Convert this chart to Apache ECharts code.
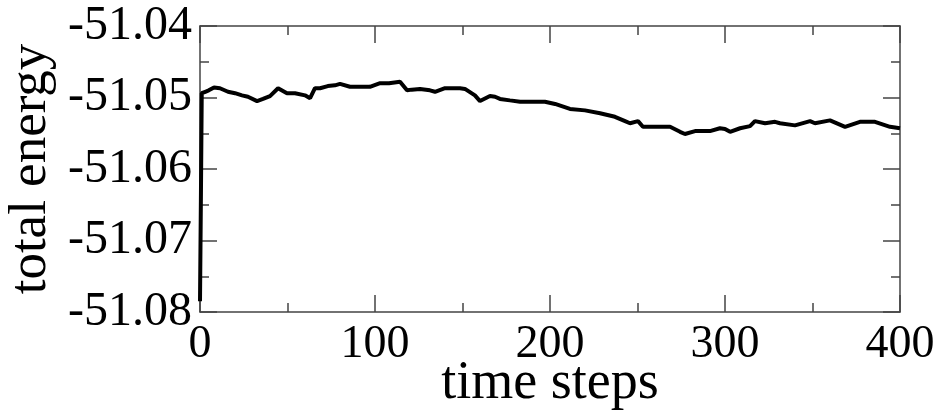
<!DOCTYPE html>
<html>
<head>
<meta charset="utf-8">
<script src="https://cdn.jsdelivr.net/npm/echarts@6/dist/echarts.min.js"></script>
<style>html,body{margin:0;padding:0;background:#fff;}#chart{width:941px;height:411px;}</style>
</head>
<body>
<div id="chart"></div>
<script>
const steps = [0, 0.5, 1, 3, 5, 8, 11.4, 16, 20, 24, 27.4, 32.6, 36, 40, 44.6, 49.7, 54.3, 60, 62.9, 65.7, 68.6, 73, 77.1, 80, 85.7, 91, 97.1, 102.9, 108, 114.3, 118.3, 121, 125.7, 131.4, 134.3, 140, 148.6, 151.4, 157.1, 160, 165.7, 168.6, 171.4, 177.1, 182.9, 188.6, 197.1, 202.9, 211.4, 220, 228.6, 237.1, 242.9, 245.7, 250.3, 253.1, 262.9, 268.6, 274.3, 277.1, 282.9, 291.4, 297.1, 300, 302.9, 308.6, 314.3, 317.1, 322.9, 328.6, 331.4, 340, 348.6, 351.4, 360, 368.6, 377.1, 385.7, 394.3, 400];
const energy = [-51.0785, -51.0645, -51.0494, -51.0492, -51.0490, -51.0486, -51.0487, -51.0492, -51.0494, -51.0497, -51.0499, -51.0505, -51.0502, -51.0498, -51.0487, -51.0494, -51.0494, -51.0497, -51.0501, -51.0487, -51.0487, -51.0484, -51.0483, -51.0481, -51.0485, -51.0485, -51.0485, -51.0480, -51.0480, -51.0478, -51.0490, -51.0489, -51.0488, -51.0490, -51.0492, -51.0487, -51.0487, -51.0488, -51.0497, -51.0505, -51.0498, -51.0499, -51.0502, -51.0504, -51.0506, -51.0506, -51.0506, -51.0509, -51.0516, -51.0518, -51.0522, -51.0527, -51.0533, -51.0536, -51.0533, -51.0541, -51.0541, -51.0541, -51.0548, -51.0551, -51.0547, -51.0547, -51.0543, -51.0544, -51.0548, -51.0543, -51.0540, -51.0533, -51.0536, -51.0534, -51.0536, -51.0539, -51.0533, -51.0536, -51.0532, -51.0541, -51.0534, -51.0534, -51.0541, -51.0543];
const xTitle = 'time steps';
const yTitle = 'total energy';

const font = '"Liberation Serif", "DejaVu Serif", serif';
const axisCol = '#444';
const chart = echarts.init(document.getElementById('chart'));
const baseX = {
  type: 'value', min: 0, max: 400, interval: 100,
  axisLine: { show: true, onZero: false, lineStyle: { color: axisCol, width: 1.5 } },
  axisTick: { show: true, inside: true, length: 17, lineStyle: { color: axisCol, width: 1.5 } },
  minorTick: { show: true, splitNumber: 2, length: 9, lineStyle: { color: axisCol, width: 1.5 } },
  splitLine: { show: false }, minorSplitLine: { show: false }
};
const baseY = {
  type: 'value', min: -51.08, max: -51.04, interval: 0.01,
  axisLine: { show: true, onZero: false, lineStyle: { color: axisCol, width: 1.5 } },
  axisTick: { show: true, inside: true, length: 17, lineStyle: { color: axisCol, width: 1.5 } },
  minorTick: { show: true, splitNumber: 2, length: 9, lineStyle: { color: axisCol, width: 1.5 } },
  splitLine: { show: false }, minorSplitLine: { show: false }
};
chart.setOption({
  animation: false,
  backgroundColor: '#fff',
  grid: { left: 200, right: 41, top: 26, bottom: 99, containLabel: false, outerBoundsMode: 'none' },
  xAxis: [
    Object.assign({}, baseX, {
      position: 'bottom',
      name: xTitle, nameLocation: 'middle', nameGap: 45, nameMoveOverlap: false,
      nameTextStyle: { fontFamily: font, fontSize: 54, color: '#000' },
      axisLabel: { fontFamily: font, fontSize: 46, color: '#000', margin: 10 }
    }),
    Object.assign({}, baseX, { position: 'top', axisLabel: { show: false } })
  ],
  yAxis: [
    Object.assign({}, baseY, {
      position: 'left',
      name: yTitle, nameLocation: 'middle', nameGap: 142, nameMoveOverlap: false,
      nameTextStyle: { fontFamily: font, fontSize: 53, color: '#000' },
      axisLabel: { fontFamily: font, fontSize: 48, color: '#000', margin: 8,
        formatter: v => v.toFixed(2) }
    }),
    Object.assign({}, baseY, { position: 'right', axisLabel: { show: false } })
  ],
  series: [{
    type: 'line',
    data: steps.map((s, i) => [s, energy[i]]),
    showSymbol: false,
    clip: false,
    lineStyle: { color: '#000', width: 4 }
  }]
});
</script>
</body>
</html>
